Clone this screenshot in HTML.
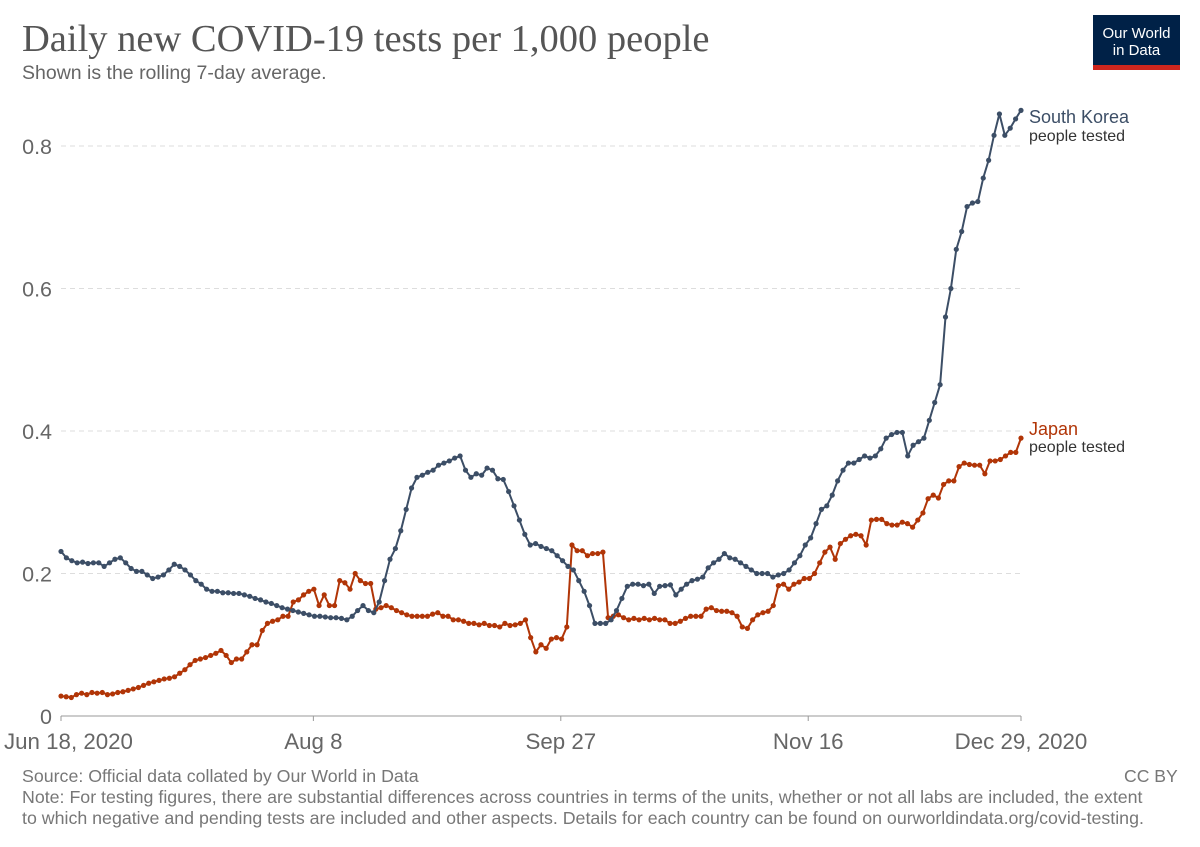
<!DOCTYPE html>
<html><head><meta charset="utf-8">
<style>
body{margin:0;background:#fff;font-family:"Liberation Sans",sans-serif;}
#wrap{position:relative;width:1200px;height:847px;overflow:hidden;}
.t{position:absolute;white-space:nowrap;}
</style></head>
<body>
<div id="wrap">
<div class="t" style="left:22px;top:17px;font-family:'Liberation Serif',serif;font-size:38.5px;color:#555;">Daily new COVID-19 tests per 1,000 people</div>
<div class="t" style="left:22px;top:62px;font-size:19.5px;color:#666;">Shown is the rolling 7-day average.</div>
<div style="position:absolute;left:1093px;top:15px;width:87px;height:55px;background:#002147;color:#fff;font-size:15px;text-align:center;line-height:17px;box-sizing:border-box;padding-top:10px;border-bottom:5px solid #ce261e;">Our World<br>in Data</div>
<svg id="chart" width="1200" height="847" style="position:absolute;left:0;top:0"></svg>
<div class="t" style="left:22px;top:766px;font-size:17.8px;color:#777;">Source: Official data collated by Our World in Data</div>
<div class="t" style="left:1124px;top:766px;font-size:17.6px;color:#777;">CC BY</div>
<div class="t" style="left:22px;top:787px;font-size:17.8px;color:#777;line-height:21px;">Note: For testing figures, there are substantial differences across countries in terms of the units, whether or not all labs are included, the extent<br>to which negative and pending tests are included and other aspects. Details for each country can be found on ourworldindata.org/covid-testing.</div>
</div>
<script>
const yTicks=[0,0.2,0.4,0.6,0.8];
const yTickLabels=["0","0.2","0.4","0.6","0.8"];
const xTickDays=[0,51,101,151,194];
const xTickLabels=["Jun 18, 2020","Aug 8","Sep 27","Nov 16","Dec 29, 2020"];
const southKorea=[0.231,0.222,0.218,0.215,0.216,0.214,0.215,0.215,0.210,0.215,0.220,0.222,0.215,0.207,0.203,0.203,0.198,0.193,0.195,0.198,0.205,0.213,0.210,0.205,0.198,0.190,0.185,0.178,0.175,0.175,0.173,0.173,0.172,0.172,0.170,0.168,0.165,0.163,0.160,0.158,0.155,0.152,0.150,0.148,0.146,0.144,0.142,0.140,0.140,0.139,0.138,0.138,0.137,0.135,0.140,0.148,0.155,0.148,0.145,0.160,0.190,0.220,0.235,0.260,0.290,0.320,0.335,0.338,0.342,0.345,0.352,0.355,0.358,0.362,0.365,0.345,0.335,0.340,0.338,0.348,0.345,0.333,0.332,0.315,0.295,0.275,0.255,0.240,0.242,0.238,0.235,0.232,0.225,0.218,0.210,0.205,0.190,0.175,0.155,0.130,0.130,0.130,0.135,0.148,0.165,0.182,0.185,0.185,0.183,0.185,0.172,0.182,0.183,0.184,0.170,0.178,0.185,0.190,0.192,0.195,0.208,0.215,0.220,0.228,0.222,0.220,0.215,0.210,0.205,0.200,0.200,0.200,0.195,0.198,0.200,0.205,0.215,0.225,0.240,0.250,0.270,0.290,0.295,0.310,0.330,0.345,0.355,0.355,0.360,0.365,0.362,0.365,0.375,0.390,0.395,0.398,0.398,0.365,0.380,0.385,0.390,0.415,0.440,0.465,0.560,0.600,0.655,0.680,0.715,0.720,0.722,0.755,0.780,0.815,0.845,0.815,0.825,0.838,0.850];
const japan=[0.028,0.027,0.026,0.030,0.032,0.030,0.033,0.032,0.033,0.030,0.031,0.033,0.034,0.036,0.038,0.040,0.043,0.046,0.048,0.050,0.052,0.053,0.055,0.060,0.065,0.072,0.078,0.080,0.082,0.085,0.088,0.092,0.085,0.075,0.080,0.080,0.090,0.100,0.100,0.120,0.130,0.133,0.135,0.140,0.140,0.160,0.163,0.170,0.175,0.178,0.155,0.170,0.155,0.155,0.190,0.187,0.178,0.200,0.190,0.186,0.186,0.150,0.152,0.155,0.152,0.148,0.145,0.142,0.140,0.140,0.140,0.140,0.143,0.145,0.140,0.140,0.135,0.135,0.133,0.130,0.130,0.128,0.130,0.127,0.127,0.125,0.130,0.127,0.128,0.130,0.135,0.110,0.090,0.100,0.095,0.108,0.110,0.108,0.125,0.240,0.232,0.232,0.225,0.228,0.228,0.230,0.138,0.140,0.142,0.138,0.135,0.137,0.135,0.137,0.135,0.137,0.135,0.135,0.130,0.130,0.133,0.137,0.140,0.140,0.140,0.150,0.152,0.148,0.147,0.147,0.145,0.140,0.125,0.123,0.135,0.142,0.145,0.147,0.155,0.183,0.185,0.178,0.185,0.188,0.193,0.193,0.200,0.215,0.230,0.237,0.220,0.242,0.248,0.253,0.255,0.253,0.240,0.275,0.276,0.276,0.270,0.268,0.268,0.272,0.270,0.265,0.275,0.285,0.305,0.310,0.306,0.325,0.330,0.330,0.350,0.355,0.353,0.352,0.352,0.340,0.358,0.358,0.360,0.365,0.370,0.370,0.390];

const NS='http://www.w3.org/2000/svg';
const svg=document.getElementById('chart');
const X0=61,X1=1021,Y0=716,Y8=146;
function xScaleDay(d){return X0+(X1-X0)*d/194;}
function xScaleIdx(i,n){return X0+(X1-X0)*i/(n-1);}
function yScale(v){return Y0-(Y0-Y8)*v/0.8;}
function mk(tag,attrs){const e=document.createElementNS(NS,tag);for(const k in attrs)e.setAttribute(k,attrs[k]);svg.appendChild(e);return e;}

yTicks.forEach((t,i)=>{
  const y=yScale(t);
  if(t>0){const g=mk('line',{x1:X0,x2:X1,y1:y,y2:y,stroke:'#ddd','stroke-dasharray':'5,4'});
  
  }
  const tx=mk('text',{x:52,y:y+8,'text-anchor':'end','font-size':'21.5','fill':'#666','font-family':'Liberation Sans'});
  tx.textContent=yTickLabels[i];
  
  
});
const ax=mk('line',{x1:X0,x2:X1,y1:Y0,y2:Y0,stroke:'#999'});


xTickDays.forEach((d,i)=>{
  const x=xScaleDay(d);
  const tk=mk('line',{x1:x,x2:x,y1:Y0,y2:Y0+5,stroke:'#999'});
  
  
  const first=(i===0);
  const tx=mk('text',{x:first?4:x,y:749,'text-anchor':first?'start':'middle','font-size':'22.3','fill':'#666','font-family':'Liberation Sans'});
  tx.textContent=xTickLabels[i];
  
  
});
function series(data,color,name){
  const n=data.length;
  const pts=data.map((v,i)=>xScaleIdx(i,n).toFixed(1)+','+yScale(v).toFixed(1)).join(' ');
  const pl=mk('polyline',{points:pts,fill:'none',stroke:color,'stroke-width':'2'});
  
  
  data.forEach((v,i)=>{
    const c=mk('circle',{cx:xScaleIdx(i,n),cy:yScale(v),r:2.6,fill:color});
    
    
  });
}
series(japan,'#b13507','japan');
series(southKorea,'#3c4e66','south-korea');
function label(txt,y,color,size,name){
  const t=mk('text',{x:1029,y:y,'font-size':size,'fill':color,'font-family':'Liberation Sans'});
  t.textContent=txt;
  
  
}
label('South Korea',123,'#3c4e66','18','legend-south-korea');
label('people tested',141,'#333','16','legend-south-korea-metric');
label('Japan',435,'#b13507','18','legend-japan');
label('people tested',452,'#333','16','legend-japan-metric');
</script>
</body></html>
